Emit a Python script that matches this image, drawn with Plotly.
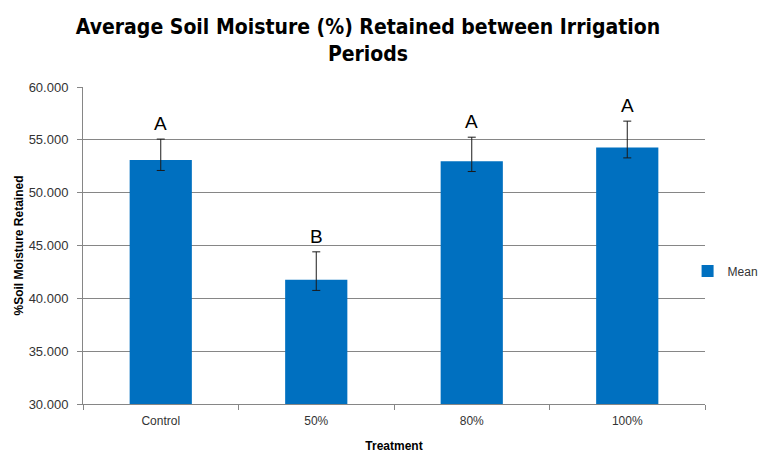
import plotly.graph_objects as go

categories = ["Control", "50%", "80%", "100%"]
means = [53.10, 41.75, 52.97, 54.28]
err_plus = [1.97, 2.65, 2.28, 2.49]
err_minus = [1.00, 1.00, 0.97, 0.99]
letters = ["A", "B", "A", "A"]
y_ticks = [30, 35, 40, 45, 50, 55, 60]

TICK_FONT = "Liberation Sans, Arial, sans-serif"
TITLE_FONT = "Liberation Sans Narrow, DejaVu Sans Condensed, Arial Narrow, sans-serif"

# the page places the plot div 8px in from the top-left corner, so the
# figure is sized 762x446 to fill the 770x454 window exactly
W, H = 762, 446

fig = go.Figure()
fig.add_trace(go.Bar(
    x=categories, y=means, name="Mean",
    marker=dict(color="#0070C0", line=dict(width=0)),
    width=0.4,
    error_y=dict(type="data", symmetric=False, array=err_plus, arrayminus=err_minus,
                 color="#1a1a1a", thickness=1, width=4),
))

for c, m, e, l in zip(categories, means, err_plus, letters):
    fig.add_annotation(x=c, y=m + e, text=l, showarrow=False, yanchor="bottom", yshift=3,
                       font=dict(family=TICK_FONT, size=19, color="#000000"))

fig.update_layout(
    width=W, height=H,
    margin=dict(l=75, r=65, t=79, b=50, autoexpand=False),
    paper_bgcolor="white", plot_bgcolor="white",
    title=dict(text="<b>Average Soil Moisture (%) Retained between Irrigation<br>Periods</b>",
               x=360 / W, xanchor="center", xref="container",
               y=1, yanchor="top", pad=dict(t=26),
               font=dict(family=TITLE_FONT, size=21, color="#000000")),
    showlegend=True,
    legend=dict(x=0.972, xanchor="left", y=0.4196, yanchor="middle",
                font=dict(family=TICK_FONT, size=12, color="#333333"),
                bgcolor="rgba(0,0,0,0)"),
    xaxis=dict(tickson="boundaries", showline=True, linecolor="#868686", linewidth=1,
               ticks="outside", ticklen=5, tickcolor="#868686", showgrid=False,
               automargin=False, ticklabelstandoff=6,
               tickfont=dict(family=TICK_FONT, size=12, color="#333333"),
               title=dict(text="<b>Treatment</b>", standoff=14,
                          font=dict(family=TICK_FONT, size=12, color="#000000"))),
    yaxis=dict(range=[30, 60], tickvals=y_ticks, tickformat=".3f",
               showline=True, linecolor="#868686", linewidth=1,
               ticks="outside", ticklen=5, tickcolor="#868686",
               showgrid=True, gridcolor="#868686", gridwidth=1, zeroline=False,
               automargin=False, ticklabelstandoff=6,
               tickfont=dict(family=TICK_FONT, size=13, color="#333333"),
               title=dict(text="<b>%Soil Moisture Retained</b>", standoff=2,
                          font=dict(family=TICK_FONT, size=12, color="#000000"))),
    bargap=0.6,
)

fig.write_html("out.html")
